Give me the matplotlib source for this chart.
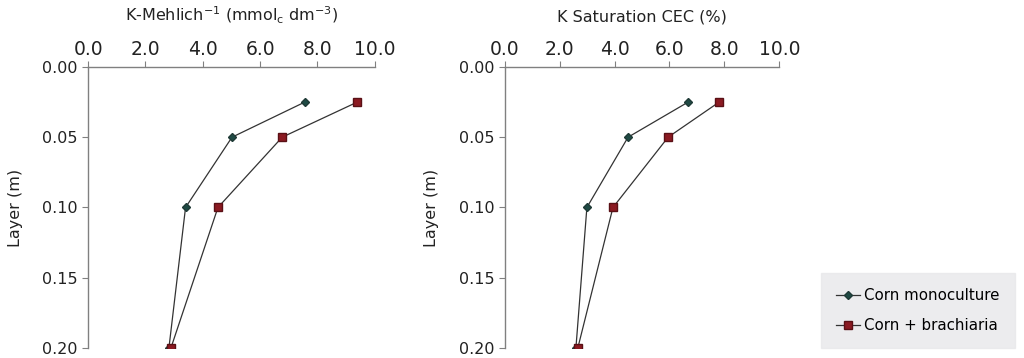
import matplotlib
matplotlib.use("Agg")
from matplotlib import pyplot as plt
from matplotlib.ticker import FormatStrFormatter

layers = [0.025, 0.05, 0.10, 0.20]

k_mehlich_mono = [7.56, 5.02, 3.40, 2.82]
k_mehlich_brach = [9.39, 6.77, 4.53, 2.89]

k_sat_mono = [6.68, 4.49, 2.99, 2.59]
k_sat_brach = [7.81, 5.95, 3.94, 2.66]

series_labels = ["Corn monoculture", "Corn + brachiaria"]
titles = [r"K-Mehlich$^{-1}$ (mmol$_{c}$ dm$^{-3}$)", "K Saturation CEC (%)"]

plt.rcParams["font.family"] = ["DejaVu Sans"]
plt.rcParams["mathtext.default"] = "regular"

fig = plt.figure(figsize=(10.24, 3.58), dpi=100)
ax1 = fig.add_axes([0.086, 0.028, 0.280, 0.785])
ax2 = fig.add_axes([0.493, 0.028, 0.268, 0.785])

grey = "#808080"
for ax, mono, brach, title in [(ax1, k_mehlich_mono, k_mehlich_brach, titles[0]),
                               (ax2, k_sat_mono, k_sat_brach, titles[1])]:
    ax.plot(mono, layers, color="#333333", lw=0.9, marker="D", ms=4,
            mfc="#1f4a44", mec="#1f3a36", label=series_labels[0])
    ax.plot(brach, layers, color="#333333", lw=0.9, marker="s", ms=5.5,
            mfc="#8b1a22", mec="#5a1015", label=series_labels[1])
    ax.set_xlim(0, 10)
    ax.set_ylim(0.20, 0.0)
    ax.set_xticks([0, 2, 4, 6, 8, 10])
    ax.set_yticks([0.0, 0.05, 0.10, 0.15, 0.20])
    ax.xaxis.set_major_formatter(FormatStrFormatter("%.1f"))
    ax.yaxis.set_major_formatter(FormatStrFormatter("%.2f"))
    ax.xaxis.tick_top()
    for s in ["right", "bottom"]:
        ax.spines[s].set_visible(False)
    for s in ["top", "left"]:
        ax.spines[s].set_color(grey)
        ax.spines[s].set_linewidth(1.0)
    ax.tick_params(colors=grey, labelcolor="#222222", length=4)
    ax.tick_params(axis="x", labelsize=13.5, pad=2)
    ax.tick_params(axis="y", labelsize=11.5)
    ax.set_ylabel("Layer (m)", fontsize=11.5, color="#222222", labelpad=14)
    ax.set_title(title, fontsize=11.5, color="#222222", pad=33)

handles, labels = ax1.get_legend_handles_labels()
leg = fig.legend(handles, labels, loc="lower right",
                 bbox_to_anchor=(0.991, 0.028), borderaxespad=0,
                 frameon=True, fontsize=10.8,
                 handlelength=1.6, handletextpad=0.3, borderpad=1.0,
                 labelspacing=1.0, fancybox=False)
leg.get_frame().set_facecolor("#e8e8ea")
leg.get_frame().set_edgecolor("#e8e8ea")

fig.savefig("out.png", dpi=100)
